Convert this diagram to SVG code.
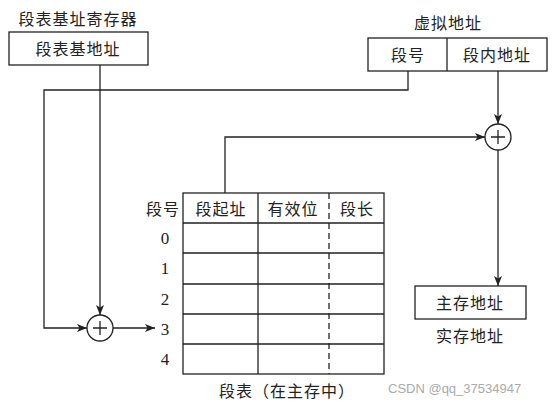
<svg xmlns="http://www.w3.org/2000/svg" width="559" height="406" viewBox="0 0 559 406">
<style>
.t{font-family:"Noto Sans CJK SC","Liberation Sans",sans-serif;font-size:16px;fill:#222;text-anchor:middle;dominant-baseline:central;letter-spacing:1px}
.n{font-family:"Liberation Serif",serif;font-size:17px;fill:#222;text-anchor:middle;dominant-baseline:central}
.b{fill:#fff;stroke:#222;stroke-width:1.3}
.l{fill:none;stroke:#222;stroke-width:1.3}
.wm{font-family:"Liberation Sans",sans-serif;font-size:13px;fill:#aaa;dominant-baseline:central}
</style>
<defs>
<marker id="a" viewBox="0 0 10 8" refX="10" refY="4" markerWidth="10" markerHeight="8" markerUnits="userSpaceOnUse" orient="auto">
<path d="M0,0 L10,4 L0,8 L2.5,4 Z" fill="#222"/>
</marker>
</defs>
<rect width="559" height="406" fill="#fff"/>
<g id="reg">
<text class="t" x="78" y="18">段表基址寄存器</text>
<rect class="b" x="9" y="32" width="139" height="33"/>
<text class="t" x="78" y="48">段表基地址</text>
</g>
<g id="vaddr">
<text class="t" x="448" y="22">虚拟地址</text>
<rect class="b" x="368" y="38" width="179" height="33"/>
<line class="l" x1="447" y1="38" x2="447" y2="71"/>
<text class="t" x="408" y="54">段号</text>
<text class="t" x="497" y="54">段内地址</text>
</g>
<g id="add1">
<circle class="b" cx="100" cy="328" r="13"/>
<path class="l" d="M93,328 H107 M100,321 V335"/>
</g>
<g id="add2">
<circle class="b" cx="498" cy="137" r="13"/>
<path class="l" d="M491,137 H505 M498,130 V144"/>
</g>
<g id="table">
<rect class="b" x="183" y="193" width="201" height="181"/>
<path class="l" d="M183,223 H384 M183,253 H384 M183,284 H384 M183,314 H384 M183,344 H384 M258,193 V374"/>
<line class="l" x1="329" y1="193" x2="329" y2="374" stroke-dasharray="6,4"/>
<text class="t" x="163" y="208">段号</text>
<text class="t" x="221" y="208">段起址</text>
<text class="t" x="293" y="208">有效位</text>
<text class="t" x="357" y="208">段长</text>
<text class="n" x="165" y="238">0</text>
<text class="n" x="165" y="268">1</text>
<text class="n" x="165" y="299">2</text>
<text class="n" x="165" y="329">3</text>
<text class="n" x="165" y="359">4</text>
<text class="t" x="287" y="390">段表（在主存中）</text>
</g>
<g id="mem">
<rect class="b" x="415" y="286" width="111" height="33"/>
<text class="t" x="470" y="302">主存地址</text>
<text class="t" x="470" y="335">实存地址</text>
</g>
<g id="connectors">
<path class="l" d="M100,65 V315" marker-end="url(#a)"/>
<path class="l" d="M408,71 V90 H44 V328 H87" marker-end="url(#a)"/>
<path class="l" d="M113,328 H155" marker-end="url(#a)"/>
<path class="l" d="M498,71 V124" marker-end="url(#a)"/>
<path class="l" d="M225,193 V137 H485" marker-end="url(#a)"/>
<path class="l" d="M498,150 V286" marker-end="url(#a)"/>
</g>
<text class="wm" x="388" y="388">CSDN @qq_37534947</text>
</svg>
